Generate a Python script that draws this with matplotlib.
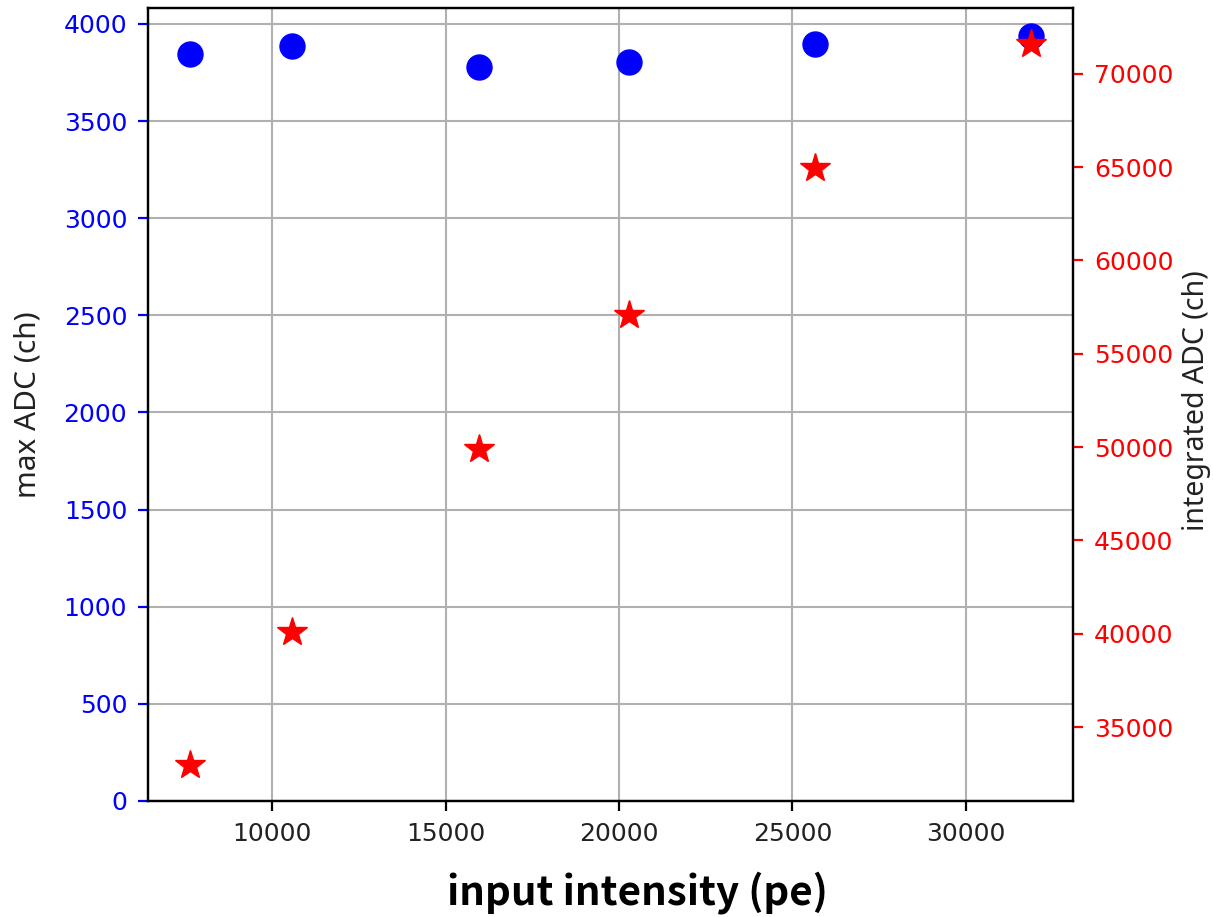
import matplotlib
matplotlib.use("Agg")
import matplotlib.pyplot as plt

plt.rcParams['font.family'] = ['DejaVu Sans']

# values
intensity_pe = [7630, 10580, 15950, 20290, 25660, 31880]
max_adc = [3846, 3887, 3779, 3804, 3897, 3938]
integrated_adc = [32970, 40075, 49900, 57060, 64970, 71590]

jp = ['Noto Sans CJK JP', 'DejaVu Sans']
lab = ['Noto Sans', 'DejaVu Sans']

fig = plt.figure(figsize=(12.13, 9.17), dpi=100)
ax = fig.add_axes([0.122, 0.1265, 0.7626, 0.8648])

ax.plot(intensity_pe, max_adc, 'bo', markersize=18)
ax.set_ylim(0, 4082)
ax.grid(True, linewidth=1.5, color='#b0b0b0')
ax.set_ylabel("max ADC (ch)", fontsize=21.5, family=lab, color='#222222')
ax.yaxis.set_label_coords(-0.1135, 0.5)
ax.tick_params(axis='y', colors='b', labelsize=18, width=1.6, length=7, pad=8)
ax.tick_params(axis='x', labelsize=18, width=1.6, length=7, pad=8,
               labelcolor='#222222')
for s in ax.spines.values():
    s.set_linewidth(1.6)

ax2 = ax.twinx()
ax2.plot(intensity_pe, integrated_adc, 'r*', markersize=22)
ax2.set_ylabel("integrated ADC (ch)", fontsize=20.5, family=lab, color='#222222')
ax2.yaxis.set_label_coords(1.118, 0.505)
ax2.tick_params(axis='y', colors='r', labelsize=18, width=1.6, length=7, pad=8)
for s in ax2.spines.values():
    s.set_linewidth(1.6)

ax.set_xlabel("input intensity (pe)", fontsize=29, fontweight='bold', family=jp)
ax.xaxis.set_label_coords(0.529, -0.088)

fig.savefig("out.png", dpi=100)
